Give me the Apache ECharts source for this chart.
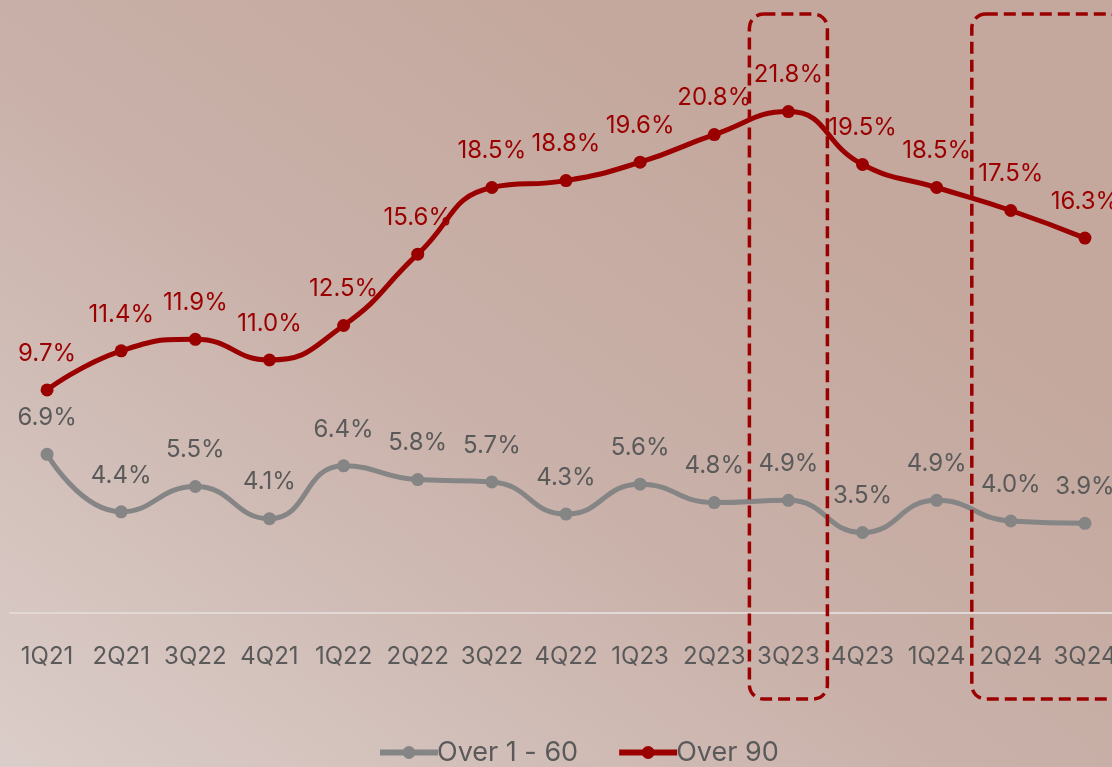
<!DOCTYPE html>
<html>
<head>
<meta charset="utf-8">
<script src="https://cdn.jsdelivr.net/npm/echarts@6/dist/echarts.min.js"></script>
<style>
  html, body { margin: 0; padding: 0; overflow: hidden; }
  #wrap { width: 1112px; height: 767px; overflow: hidden; }
  #chart { width: 1122px; height: 767px; }
</style>
</head>
<body>
<div id="wrap"><div id="chart"></div></div>
<script>
// 季度
var quarters = ['1Q21', '2Q21', '3Q22', '4Q21', '1Q22', '2Q22', '3Q22', '4Q22', '1Q23', '2Q23', '3Q23', '4Q23', '1Q24', '2Q24', '3Q24'];
// Over 1 - 60
var over1to60 = [6.9, 4.4, 5.5, 4.1, 6.4, 5.8, 5.7, 4.3, 5.6, 4.8, 4.9, 3.5, 4.9, 4.0, 3.9];
// Over 90
var over90 = [9.7, 11.4, 11.9, 11.0, 12.5, 15.6, 18.5, 18.8, 19.6, 20.8, 21.8, 19.5, 18.5, 17.5, 16.3];
// 高亮的季度区间
var highlights = [['3Q23', '3Q23'], ['2Q24', '3Q24']];

var FONT = 'Inter';
var RED = '#9b0000';
var GRAY = '#858585';

var chartsObj = echarts.init(document.getElementById('chart'));

var option = {
    backgroundColor: new echarts.graphic.LinearGradient(0, 1, 0.5, 0, [
        { offset: 0, color: '#dbcdc9' },
        { offset: 0.6, color: '#c9b1a9' },
        { offset: 1, color: '#c4a89e' }
    ]),
    textStyle: { fontFamily: FONT },
    grid: {
        left: 10,
        right: 0,
        top: 38,
        bottom: 154
    },
    legend: {
        bottom: -4,
        left: 372,
        itemWidth: 58,
        itemHeight: 16,
        itemGap: 38,
        lineStyle: { width: 6 },
        textStyle: { fontSize: 27, color: '#5a5a5a', fontFamily: FONT, padding: [0, 0, 0, -6] },
        data: ['Over 1 - 60', 'Over 90']
    },
    xAxis: {
        type: 'category',
        data: quarters,
        axisLine: { lineStyle: { color: '#e2d8d5', width: 2 } },
        axisTick: { show: false },
        axisLabel: { fontSize: 24, color: '#5a5a5a', margin: 32, interval: 0 }
    },
    yAxis: {
        type: 'value',
        min: 0,
        max: 25,
        show: false,
        splitLine: { show: false }
    },
    series: [
        {
            name: 'Over 1 - 60',
            type: 'line',
            smooth: 0.5,
            data: over1to60,
            symbol: 'circle',
            symbolSize: 13,
            lineStyle: { width: 5, color: GRAY },
            itemStyle: { color: GRAY },
            label: {
                show: true,
                position: 'top',
                distance: 18,
                fontSize: 24,
                color: '#5a5a5a',
                formatter: function (p) { return p.value.toFixed(1) + '%'; }
            }
        },
        {
            name: 'Over 90',
            type: 'line',
            smooth: 0.5,
            data: over90,
            symbol: 'circle',
            symbolSize: 13,
            lineStyle: { width: 5, color: RED },
            itemStyle: { color: RED },
            label: {
                show: true,
                position: 'top',
                distance: 18,
                fontSize: 24,
                color: RED,
                formatter: function (p) { return p.value.toFixed(1) + '%'; }
            }
        }
    ]
};

chartsObj.setOption(option);

// 虚线框, 位置由x轴换算
var boxes = [];
for (var i = 0; i < highlights.length; i++) {
    var x0 = chartsObj.convertToPixel({ xAxisIndex: 0 }, highlights[i][0]);
    var x1 = chartsObj.convertToPixel({ xAxisIndex: 0 }, highlights[i][1]);
    boxes.push({
        type: 'rect',
        shape: { x: x0 - 39, y: 14, width: x1 - x0 + 78, height: 685, r: 14 },
        style: { fill: 'none', stroke: RED, lineWidth: 3.5, lineDash: [12, 6] },
        z: 100
    });
}
chartsObj.setOption({ graphic: boxes });
</script>
</body>
</html>
